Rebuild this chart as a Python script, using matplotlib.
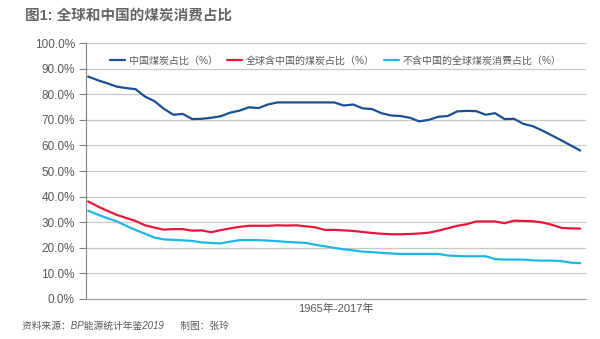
import matplotlib
matplotlib.use("Agg")
import matplotlib.pyplot as plt
import numpy as np

plt.rcParams['font.family'] = ['Liberation Sans', 'Noto Sans CJK SC', 'DejaVu Sans']

years = list(range(1965, 2018))
china_share = [86.9, 85.5, 84.3, 83.0, 82.4, 82.0, 79.1, 77.3, 74.3, 72.0,
               72.3, 70.3, 70.4, 70.8, 71.4, 72.8, 73.6, 74.9, 74.6, 76.0,
               76.8, 76.8, 76.8, 76.8, 76.8, 76.8, 76.8, 75.6, 76.0, 74.5,
               74.2, 72.6, 71.7, 71.5, 70.8, 69.4, 70.0, 71.2, 71.5, 73.3,
               73.5, 73.4, 72.0, 72.6, 70.3, 70.4, 68.4, 67.5, 65.8, 63.9,
               62.0, 60.0, 58.0]
world_incl_china = [38.1, 36.2, 34.5, 32.9, 31.7, 30.5, 28.8, 27.9, 27.1, 27.3,
                    27.3, 26.7, 26.8, 26.1, 26.9, 27.6, 28.2, 28.6, 28.6, 28.6,
                    28.8, 28.7, 28.8, 28.4, 28.0, 27.0, 27.0, 26.8, 26.6, 26.2,
                    25.8, 25.5, 25.3, 25.3, 25.4, 25.6, 25.9, 26.7, 27.6, 28.6,
                    29.2, 30.3, 30.3, 30.3, 29.6, 30.6, 30.5, 30.4, 29.9, 29.0,
                    27.8, 27.6, 27.5]
world_excl_china = [34.5, 33.0, 31.6, 30.4, 28.6, 27.0, 25.5, 24.0, 23.3, 23.1,
                    22.9, 22.7, 22.1, 21.9, 21.7, 22.4, 23.0, 23.0, 23.0, 22.8,
                    22.6, 22.3, 22.1, 21.9, 21.2, 20.6, 20.0, 19.4, 19.0, 18.5,
                    18.3, 18.0, 17.8, 17.6, 17.6, 17.6, 17.6, 17.6, 17.0, 16.8,
                    16.7, 16.7, 16.7, 15.6, 15.4, 15.4, 15.4, 15.1, 15.0, 15.0,
                    14.8, 14.2, 14.0]
series_names = ["中国煤炭占比（%）", "全球含中国的煤炭占比（%）", "不含中国的全球煤炭消费占比（%）"]
y_ticks = [0, 10, 20, 30, 40, 50, 60, 70, 80, 90, 100]

fig = plt.figure(figsize=(6.0, 3.39), dpi=100)
ax = fig.add_axes([0.143, 0.118, 0.834, 0.755])

colors = ['#1b4f93', '#e8173a', '#1cb8e8']
for vals, name, c in zip([china_share, world_incl_china, world_excl_china], series_names, colors):
    ax.plot(years, vals, color=c, lw=1.6, label=name, solid_capstyle='round')

ax.set_xlim(1965 - 0.25, 2017 + 0.63)
ax.set_ylim(0, 100)
ax.set_yticks(y_ticks)
ax.set_yticklabels([f"{v:.1f}%" for v in y_ticks])
ax.set_xticks([])
ax.grid(axis='y', color='#c8c8c8', lw=0.9)
ax.set_axisbelow(True)
for s in ['top', 'right']:
    ax.spines[s].set_visible(False)
ax.spines['left'].set_color('#808080')
ax.spines['bottom'].set_color('#a0a0a0')
ax.tick_params(axis='y', direction='out', length=5, color='#808080', labelsize=8.5,
               labelcolor='#595959', pad=3)
ax.set_xlabel("1965年-2017年", fontsize=8, color='#595959', labelpad=3)

leg = ax.legend(loc='upper center', bbox_to_anchor=(0.5, 0.985), ncol=3, frameon=False,
                fontsize=7.2, handlelength=1.5, handletextpad=0.4, columnspacing=0.9,
                labelcolor='#595959')

fig.text(0.042, 0.955, "图1: 全球和中国的煤炭消费占比", fontsize=10.5, fontweight='bold',
         color='#666666', va='center', ha='left')
fig.text(0.037, 0.04, "资料来源：BP能源统计年鉴2019      制图：张玲", fontsize=7,
         color='#595959', va='center', ha='left', style='italic')

fig.savefig("out.png", dpi=100, facecolor='white')
